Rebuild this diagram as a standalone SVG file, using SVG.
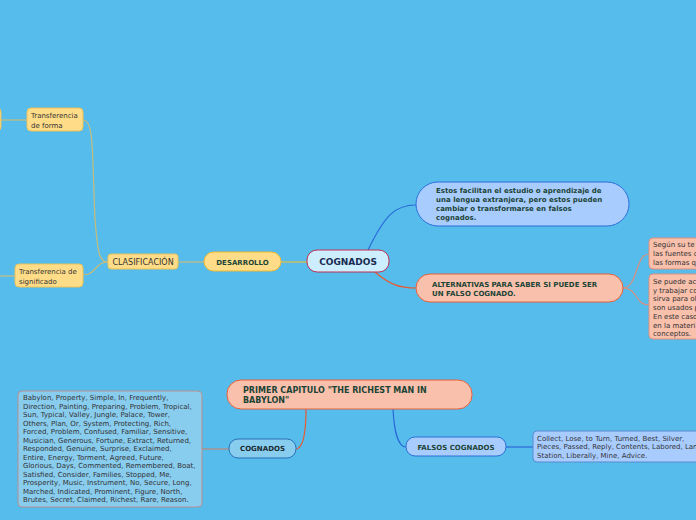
<svg xmlns="http://www.w3.org/2000/svg" width="696" height="520" viewBox="0 0 696 520">
<style>
text{font-family:"DejaVu Sans","Liberation Sans",sans-serif;font-size:7px;fill:#333}
.b{font-weight:bold;fill:#1c4436}
.y{fill:#FFDD88;stroke:#EBC25A;stroke-width:1}
.p{fill:#F9C0AC;stroke:#E8603A;stroke-width:1}
.pl{fill:#F9C0AC;stroke:#E0907A;stroke-width:1}
.bl{fill:#A9CCFF;stroke:#2E6FD6;stroke-width:1}
.c{fill:none;stroke-width:1.2}
</style>
<rect width="696" height="520" fill="#55BCEB"/>
<g id="connectors">
<path class="c" d="M1,120 L27,120" stroke="#C8BC7C"/>
<path class="c" d="M0,276 L15,276" stroke="#C8BC7C"/>
<path class="c" d="M108,262 C98,262 98,250 95,220 C92,150 94,120 83,120" stroke="#C8BC7C"/>
<path class="c" d="M108,262 C95,262 96,275 83,275" stroke="#C8BC7C"/>
<path class="c" d="M178,262 L204,262" stroke="#C8BC7C"/>
<path class="c" d="M281,262 L307,262" stroke="#E8C040"/>
<path class="c" d="M368,250 C385,215 395,205 416,205" stroke="#2A6AD8"/>
<path class="c" d="M375,272 C390,285 400,288 416,288" stroke="#E85A30"/>
<path class="c" d="M623,288 C638,288 635,254 649,254" stroke="#D89080"/>
<path class="c" d="M623,288 C638,288 635,305 649,305" stroke="#D89080"/>
<path class="c" d="M306,409 C306,430 304,448 296,449" stroke="#E85A30"/>
<path class="c" d="M393,409 C394,430 398,447 406,447" stroke="#2A6AD8"/>
<path class="c" d="M229,449 L202,449" stroke="#C08878"/>
<path class="c" d="M506,447 L533,447" stroke="#2A6AD8"/>
</g>
<g id="offscreen-left-top"><rect class="y" x="-40" y="108" width="41" height="23" rx="4"/></g>
<g id="transf-forma"><rect class="y" x="27" y="108" width="56" height="23" rx="4"/><text x="31" y="118">Transferencia</text><text x="31" y="128">de forma</text></g>
<g id="transf-signif"><rect class="y" x="15" y="264" width="68" height="23" rx="4"/><text x="19" y="273.5">Transferencia de</text><text x="19" y="283.5">significado</text></g>
<g id="clasificacion"><rect class="y" x="108" y="254" width="70" height="15" rx="3"/><text x="143" y="265" text-anchor="middle" style="font-size:8px">CLASIFICACIÓN</text></g>
<g id="desarrollo"><rect x="204" y="252" width="77" height="19" rx="9.5" fill="#FFDD88" stroke="#F0B830"/><text class="b" x="242.5" y="264.5" text-anchor="middle">DESARROLLO</text></g>
<g id="cognados"><rect x="307" y="250" width="82" height="22" rx="10" fill="#CCEEFF" stroke="#C03050"/><text x="348" y="265" text-anchor="middle" style="font-size:9px;font-weight:bold;fill:#1A2A50">COGNADOS</text></g>
<g id="estos"><rect class="bl" x="416" y="182" width="213" height="44" rx="22"/><text class="b" x="436" y="193">Estos facilitan el estudio o aprendizaje de</text><text class="b" x="436" y="202">una lengua extranjera, pero estos pueden</text><text class="b" x="436" y="211">cambiar o transformarse en falsos</text><text class="b" x="436" y="220">cognados.</text></g>
<g id="alternativas"><rect class="p" x="416" y="274" width="207" height="28" rx="14"/><text class="b" x="432" y="287">ALTERNATIVAS PARA SABER SI PUEDE SER</text><text class="b" x="432" y="296">UN FALSO COGNADO.</text></g>
<g id="segun"><rect class="pl" x="649" y="238" width="60" height="31" rx="4"/><text x="653" y="247">Según su te</text><text x="653" y="256">las fuentes d</text><text x="653" y="265">las formas q</text></g>
<g id="sepuede"><rect class="pl" x="649" y="274" width="60" height="65" rx="4"/><text x="653" y="284">Se puede ac</text><text x="653" y="292.7">y trabajar co</text><text x="653" y="301.4">sirva para ol</text><text x="653" y="310.1">son usados p</text><text x="653" y="318.8">En este caso</text><text x="653" y="327.5">en la materi</text><text x="653" y="336.2">conceptos.</text></g>
<g id="primer"><rect class="p" x="227" y="380" width="245" height="29" rx="14"/><text class="b" x="243" y="393" style="font-size:8px">PRIMER CAPITULO "THE RICHEST MAN IN</text><text class="b" x="243" y="403" style="font-size:8px">BABYLON"</text></g>
<g id="cognados2"><rect x="229" y="439" width="67" height="19" rx="9" fill="#88CCEE" stroke="#2A70B8"/><text class="b" x="262.5" y="451" text-anchor="middle" style="fill:#1a2a30">COGNADOS</text></g>
<g id="lista-cognados"><rect x="18" y="391" width="184" height="116" rx="4" fill="#88CCEE" stroke="#B89090"/>
<text x="23" y="400">Babylon, Property, Simple, In, Frequently,</text>
<text x="23" y="408.5">Direction, Painting, Preparing, Problem, Tropical,</text>
<text x="23" y="417">Sun, Typical, Valley, Jungle, Palace, Tower,</text>
<text x="23" y="425.5">Others, Plan, Or, System, Protecting, Rich,</text>
<text x="23" y="434">Forced, Problem, Confused, Familiar, Sensitive,</text>
<text x="23" y="442.5">Musician, Generous, Fortune, Extract, Returned,</text>
<text x="23" y="451">Responded, Genuine, Surprise, Exclaimed,</text>
<text x="23" y="459.5">Entire, Energy, Torment, Agreed, Future,</text>
<text x="23" y="468">Glorious, Days, Commented, Remembered, Boat,</text>
<text x="23" y="476.5">Satisfied, Consider, Families, Stopped, Me,</text>
<text x="23" y="485">Prosperity, Music, Instrument, No, Secure, Long,</text>
<text x="23" y="493.5">Marched, Indicated, Prominent, Figure, North,</text>
<text x="23" y="502">Brutes, Secret, Claimed, Richest, Rare, Reason.</text></g>
<g id="falsos"><rect class="bl" x="406" y="437" width="100" height="19" rx="9"/><text class="b" x="456" y="449.5" text-anchor="middle">FALSOS COGNADOS</text></g>
<g id="lista-falsos"><rect x="533" y="431" width="180" height="31" rx="4" fill="#A9CCFF" stroke="#5A8AD0"/><text x="537" y="440.5">Collect, Lose, to Turn, Turned, Best, Silver,</text><text x="537" y="449">Pieces, Passed, Reply, Contents, Labored, Land,</text><text x="537" y="457.5">Station, Liberally, Mine, Advice.</text></g>
</svg>
